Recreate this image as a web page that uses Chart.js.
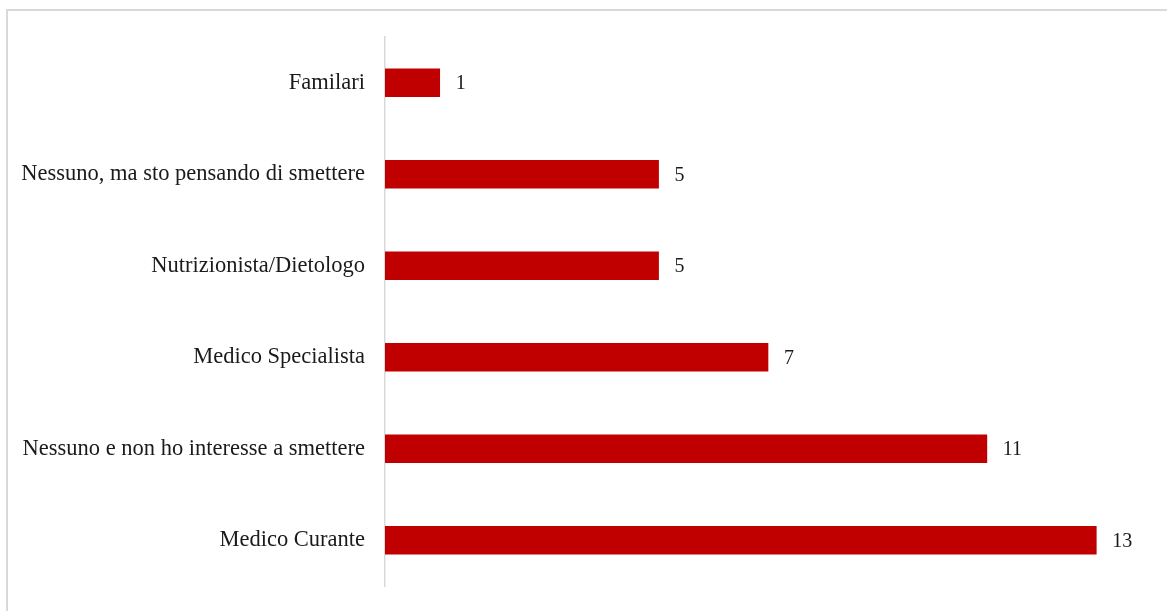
<!DOCTYPE html>
<html>
<head>
<meta charset="utf-8">
<script src="https://cdn.jsdelivr.net/npm/chart.js@4.4.1/dist/chart.umd.min.js"></script>
<style>
  html, body { margin: 0; padding: 0; background: #fff; }
  #wrap { position: relative; width: 1167px; height: 611px; }
</style>
</head>
<body>
<div id="wrap"><canvas id="c" width="1167" height="611"></canvas></div>
<script>
const categories = [
  "Familari",
  "Nessuno, ma sto pensando di smettere",
  "Nutrizionista/Dietologo",
  "Medico Specialista",
  "Nessuno e non ho interesse a smettere",
  "Medico Curante"
];
const values = [1, 5, 5, 7, 11, 13];

const FONT = "'Liberation Serif', 'Times New Roman', serif";

const frame = {
  id: 'frame',
  beforeDraw(chart) {
    const ctx = chart.ctx;
    ctx.save();
    ctx.fillStyle = '#fff';
    ctx.fillRect(0, 0, chart.width, chart.height);
    ctx.strokeStyle = '#d9d9d9';
    ctx.lineWidth = 2;
    ctx.strokeRect(7, 10, chart.width + 10, chart.height + 10);
    ctx.restore();
  }
};

const valueLabels = {
  id: 'valueLabels',
  afterDatasetsDraw(chart) {
    const ctx = chart.ctx;
    ctx.save();
    ctx.font = '20px ' + FONT;
    ctx.fillStyle = '#1a1a1a';
    ctx.textAlign = 'left';
    ctx.textBaseline = 'middle';
    const meta = chart.getDatasetMeta(0);
    meta.data.forEach((el, i) => {
      ctx.fillText(String(chart.data.datasets[0].data[i]), el.x + 16, el.y + 1);
    });
    ctx.restore();
  }
};

new Chart(document.getElementById('c'), {
  type: 'bar',
  data: {
    labels: categories,
    datasets: [{
      data: values,
      backgroundColor: '#c00000',
      borderWidth: 0,
      barThickness: 28
    }]
  },
  options: {
    indexAxis: 'y',
    responsive: false,
    animation: false,
    layout: { padding: { top: 37, bottom: 25, right: 16, left: 0 } },
    plugins: { legend: { display: false }, tooltip: { enabled: false } },
    scales: {
      x: {
        display: false,
        min: 0,
        max: 14
      },
      y: {
        grid: { display: false, drawTicks: false },
        border: { display: true, color: '#d9d9d9', width: 1.5 },
        ticks: {
          padding: 20,
          color: '#1a1a1a',
          font: { family: FONT, size: 22.5 }
        },
        afterFit(scale) {
          scale.width = 385;
          scale.paddingTop = 0;
          scale.paddingBottom = 0;
        }
      }
    }
  },
  plugins: [frame, valueLabels]
});
</script>
</body>
</html>
